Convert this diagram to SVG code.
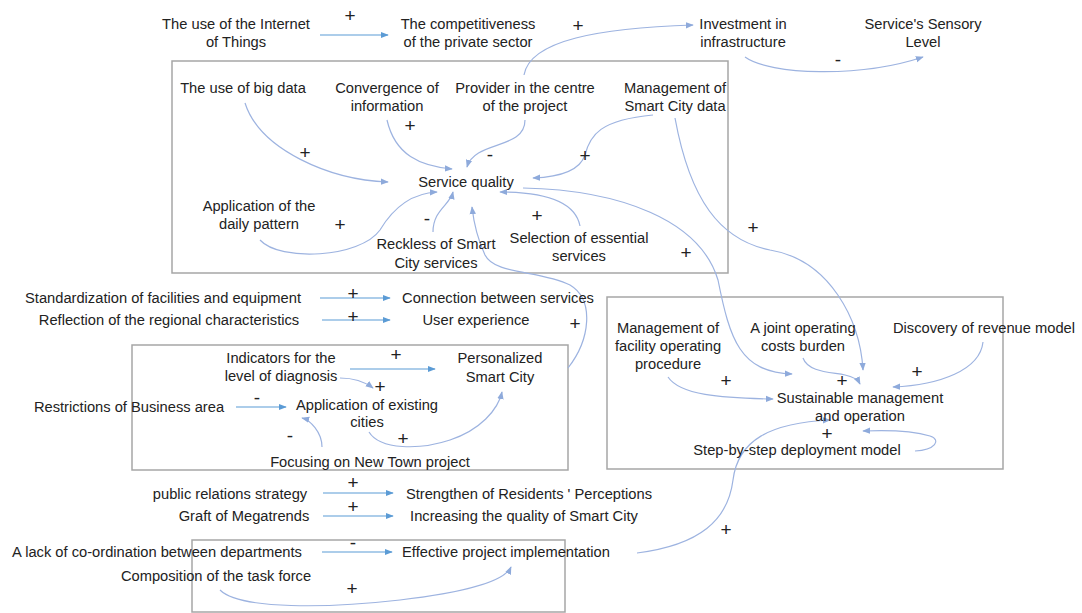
<svg xmlns="http://www.w3.org/2000/svg" width="1082" height="613" viewBox="0 0 1082 613">
<style>
text{font-family:"Liberation Sans",Arial,sans-serif;font-size:14.7px;fill:#222;text-anchor:middle}
.s{font-size:19px}
.box{fill:none;stroke:#a6a6a6;stroke-width:1.5}
.c{fill:none;stroke:#9db3e0;stroke-width:1.2}
.a{fill:none;stroke:#5b9bd5;stroke-width:1.2}
</style>
<defs>
<marker id="mc" viewBox="0 0 10 10" refX="9" refY="5" markerWidth="8" markerHeight="8" orient="auto" markerUnits="userSpaceOnUse"><path d="M0,1 L10,5 L0,9 z" fill="#8eaadb"/></marker>
<marker id="ma" viewBox="0 0 10 10" refX="9" refY="5" markerWidth="8" markerHeight="8" orient="auto" markerUnits="userSpaceOnUse"><path d="M0,1 L10,5 L0,9 z" fill="#5b9bd5"/></marker>
</defs>
<rect width="1082" height="613" fill="#fff"/>
<g id="boxes">
<rect class="box" x="172" y="61" width="556" height="212"/>
<rect class="box" x="132" y="345" width="436" height="125"/>
<rect class="box" x="607" y="297" width="396" height="172"/>
<rect class="box" x="192" y="540" width="373" height="72"/>
</g>
<g id="connectors">
<path class="a" d="M320,35 L388,35" marker-end="url(#ma)"/>
<path class="c" d="M524,75 C530,40 600,28 693,25" marker-end="url(#mc)"/>
<path class="c" d="M745,57 C770,75 860,78 923,57" marker-end="url(#mc)"/>
<path class="c" d="M245,103 C260,150 330,180 388,182" marker-end="url(#mc)"/>
<path class="c" d="M387,120 C395,155 420,166 452,169" marker-end="url(#mc)"/>
<path class="c" d="M525,120 C525,150 475,140 467,167" marker-end="url(#mc)"/>
<path class="c" d="M653,115 C600,120 590,135 585,155 C580,170 560,177 533,178" marker-end="url(#mc)"/>
<path class="c" d="M675,118 C690,200 720,240 770,250 C830,260 860,320 863,370" marker-end="url(#mc)"/>
<path class="c" d="M523,188 C620,190 700,220 718,280 C730,340 740,372 792,374" marker-end="url(#mc)"/>
<path class="c" d="M260,240 C280,262 360,258 380,230 C395,205 415,193 437,192" marker-end="url(#mc)"/>
<path class="c" d="M433,232 C433,210 450,205 453,192" marker-end="url(#mc)"/>
<path class="c" d="M568,368 C590,340 595,300 570,285 C540,270 495,275 485,255 C478,240 474,225 472,207" marker-end="url(#mc)"/>
<path class="c" d="M580,226 C575,200 540,192 500,192" marker-end="url(#mc)"/>
<path class="a" d="M320,298 L390,298" marker-end="url(#ma)"/>
<path class="a" d="M322,320 L390,320" marker-end="url(#ma)"/>
<path class="a" d="M350,369 L435,369" marker-end="url(#ma)"/>
<path class="c" d="M340,378 C355,378 365,382 373,388" marker-end="url(#mc)"/>
<path class="a" d="M236,407 L286,407" marker-end="url(#ma)"/>
<path class="c" d="M322,447 C322,432 310,420 302,418" marker-end="url(#mc)"/>
<path class="c" d="M369,432 C380,450 420,450 450,440 C480,430 498,410 502,392" marker-end="url(#mc)"/>
<path class="a" d="M323,493 L393,493" marker-end="url(#ma)"/>
<path class="a" d="M323,516 L393,516" marker-end="url(#ma)"/>
<path class="a" d="M322,552 L392,552" marker-end="url(#ma)"/>
<path class="c" d="M220,590 C240,610 330,608 400,600 C470,592 505,580 511,567" marker-end="url(#mc)"/>
<path class="c" d="M637,553 C700,545 728,520 733,480 C738,440 770,423 830,420" marker-end="url(#mc)"/>
<path class="c" d="M668,377 C680,395 720,398 773,399" marker-end="url(#mc)"/>
<path class="c" d="M803,358 C808,372 830,372 845,375 C855,377 858,380 860,384" marker-end="url(#mc)"/>
<path class="c" d="M983,342 C980,370 940,385 893,387" marker-end="url(#mc)"/>
<path class="c" d="M915,451 C935,450 942,440 930,436 C910,430 885,430 863,431" marker-end="url(#mc)"/>
</g>
<g id="polarity">
<text class="s" x="350" y="22">+</text>
<text class="s" x="578" y="32">+</text>
<text class="s" x="838" y="66">-</text>
<text class="s" x="410" y="132">+</text>
<text class="s" x="305" y="159">+</text>
<text class="s" x="490" y="161">-</text>
<text class="s" x="585" y="162">+</text>
<text class="s" x="340" y="231">+</text>
<text class="s" x="427" y="225">-</text>
<text class="s" x="537" y="222">+</text>
<text class="s" x="686" y="259">+</text>
<text class="s" x="753" y="234">+</text>
<text class="s" x="353" y="300">+</text>
<text class="s" x="353" y="323">+</text>
<text class="s" x="575" y="330">+</text>
<text class="s" x="396" y="361">+</text>
<text class="s" x="380" y="393">+</text>
<text class="s" x="257" y="404">-</text>
<text class="s" x="290" y="442">-</text>
<text class="s" x="403" y="445">+</text>
<text class="s" x="353" y="489">+</text>
<text class="s" x="353" y="513">+</text>
<text class="s" x="353" y="549">-</text>
<text class="s" x="352" y="595">+</text>
<text class="s" x="726" y="387">+</text>
<text class="s" x="842" y="387">+</text>
<text class="s" x="917" y="378">+</text>
<text class="s" x="827" y="440">+</text>
<text class="s" x="726" y="536">+</text>
</g>
<g id="n-iot"><text x="236" y="29">The use of the Internet</text><text x="236" y="47">of Things</text></g>
<g id="n-competitiveness"><text x="468" y="29">The competitiveness</text><text x="468" y="47">of the private sector</text></g>
<g id="n-investment"><text x="743" y="29">Investment in</text><text x="743" y="47">infrastructure</text></g>
<g id="n-sensory"><text x="923" y="29">Service's Sensory</text><text x="923" y="47">Level</text></g>
<g id="n-bigdata"><text x="243" y="93">The use of big data</text></g>
<g id="n-convergence"><text x="387" y="93">Convergence of</text><text x="387" y="111">information</text></g>
<g id="n-provider"><text x="525" y="93">Provider in the centre</text><text x="525" y="111">of the project</text></g>
<g id="n-scdata"><text x="675" y="93">Management of</text><text x="675" y="111">Smart City data</text></g>
<g id="n-servicequality"><text x="466" y="187">Service quality</text></g>
<g id="n-daily"><text x="259" y="211">Application of the</text><text x="259" y="229">daily pattern</text></g>
<g id="n-reckless"><text x="436" y="249">Reckless of Smart</text><text x="436" y="268">City services</text></g>
<g id="n-selection"><text x="579" y="243">Selection of essential</text><text x="579" y="261">services</text></g>
<g id="n-standardization"><text x="163" y="303">Standardization of facilities and equipment</text></g>
<g id="n-connection"><text x="498" y="303">Connection between services</text></g>
<g id="n-regional"><text x="169" y="325">Reflection of the regional characteristics</text></g>
<g id="n-userexp"><text x="476" y="325">User experience</text></g>
<g id="n-indicators"><text x="281" y="363">Indicators for the</text><text x="281" y="381">level of diagnosis</text></g>
<g id="n-personalized"><text x="500" y="363">Personalized</text><text x="500" y="382">Smart City</text></g>
<g id="n-restrictions"><text x="129" y="412">Restrictions of Business area</text></g>
<g id="n-existing"><text x="367" y="410">Application of existing</text><text x="367" y="427">cities</text></g>
<g id="n-newtown"><text x="370" y="467">Focusing on New Town project</text></g>
<g id="n-pr"><text x="230" y="499">public relations strategy</text></g>
<g id="n-perceptions"><text x="529" y="499">Strengthen of Residents ' Perceptions</text></g>
<g id="n-megatrends"><text x="244" y="521">Graft of Megatrends</text></g>
<g id="n-quality"><text x="524" y="521">Increasing the quality of Smart City</text></g>
<g id="n-coordination"><text x="157" y="557">A lack of co-ordination between departments</text></g>
<g id="n-effective"><text x="506" y="557">Effective project implementation</text></g>
<g id="n-taskforce"><text x="216" y="581">Composition of the task force</text></g>
<g id="n-facility"><text x="668" y="333">Management of</text><text x="668" y="351">facility operating</text><text x="668" y="369">procedure</text></g>
<g id="n-joint"><text x="803" y="333">A joint operating</text><text x="803" y="351">costs burden</text></g>
<g id="n-revenue"><text x="984" y="333">Discovery of revenue model</text></g>
<g id="n-sustainable"><text x="860" y="403">Sustainable management</text><text x="860" y="421">and operation</text></g>
<g id="n-stepbystep"><text x="797" y="455">Step-by-step deployment model</text></g>
</svg>
